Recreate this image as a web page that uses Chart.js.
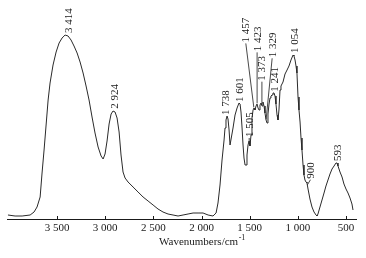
<!DOCTYPE html>
<html>
<head>
<meta charset="utf-8">
<script src="https://cdn.jsdelivr.net/npm/chart.js@4.4.1/dist/chart.umd.min.js"></script>
<style>
  html, body { margin: 0; padding: 0; background: #fff; }
  canvas { display: block; }
</style>
</head>
<body>
<canvas id="c" width="366" height="258"></canvas>
<script>
// IR spectrum (transmittance in arbitrary units)
const wavenumbers = [
  4010, 3936, 3863, 3780, 3739, 3708, 3676, 3656, 3635, 3614, 3593, 3573, 3542, 3510, 3479,
  3448, 3417, 3386, 3355, 3324, 3292, 3261, 3230, 3199, 3168, 3137, 3106, 3074, 3043, 3022,
  3002, 2981, 2960, 2939, 2919, 2898, 2877, 2856, 2836, 2815, 2794, 2763, 2711, 2659, 2607,
  2555, 2503, 2452, 2400, 2348, 2296, 2244, 2192, 2140, 2088, 2036, 1984, 1932, 1881, 1849,
  1829, 1808, 1787, 1766, 1756, 1746, 1735, 1725, 1714, 1704, 1694, 1673, 1652, 1631, 1611,
  1600, 1590, 1579, 1569, 1559, 1548, 1538, 1528, 1517, 1507, 1497, 1486, 1476, 1465, 1455,
  1445, 1434, 1424, 1413, 1403, 1393, 1382, 1372, 1362, 1351, 1341, 1330, 1320, 1310, 1299,
  1289, 1279, 1268, 1258, 1247, 1237, 1227, 1216, 1206, 1196, 1185, 1175, 1154, 1133, 1112,
  1092, 1071, 1050, 1040, 1029, 1019, 1009, 998, 988, 977, 967, 957, 946, 936, 926,
  915, 905, 894, 874, 853, 832, 811, 801, 791, 770, 749, 728, 708, 687, 666,
  645, 624, 604, 593, 583, 562, 541, 521, 500, 479, 458, 438, 427,
];
const transmittance = [
  4, 3, 3, 4, 7, 12, 22, 46, 69, 94, 119, 136, 154, 167, 176,
  181, 184, 183, 179, 173, 166, 157, 146, 133, 119, 102, 86, 72, 63, 60,
  65, 78, 95, 105, 108, 107, 101, 87, 64, 47, 41, 37, 32, 27, 22,
  18, 14, 10, 7, 5, 4, 3, 4, 5, 6, 6, 6, 4, 3, 6,
  16, 34, 59, 79, 91, 99, 103, 100, 89, 74, 74, 91, 104, 111, 116,
  115, 107, 91, 74, 61, 54, 54, 64, 74, 78, 73, 84, 101, 109, 111,
  109, 113, 115, 111, 109, 114, 116, 113, 117, 113, 106, 99, 96, 105, 115,
  121, 123, 124, 126, 126, 123, 115, 104, 99, 109, 129, 133, 137, 145, 149,
  153, 159, 164, 163, 159, 153, 146, 122, 109, 97, 81, 69, 54, 44, 39,
  37, 36, 30, 20, 12, 7, 4, 3, 5, 12, 19, 26, 33, 39, 45,
  50, 53, 56, 56, 53, 47, 42, 35, 30, 26, 21, 15, 9,
];

// x axis
const xMin = 396;
const xMax = 4020;
const xTicks = [3500, 3000, 2500, 2000, 1500, 1000, 500];

// peak annotations
const peakLabels = ['3 414', '2 924', '1 738', '1 601', '1 505', '1 457', '1 423',
  '1 373', '1 329', '1 241', '1 054', '900', '593'];
const peakWavenumbers = [3414, 2924, 1738, 1601, 1505, 1457, 1423,
  1373, 1329, 1241, 1054, 900, 593];

const axisTitle = 'Wavenumbers/cm';
const axisTitleSup = '-1';

const FONT = '"Liberation Serif", "Times New Roman", serif';
const INK = '#1a1a1a';

const fmtWave = (v) => {
  if (v >= 1000) return `${Math.floor(v / 1000)} ${String(v % 1000).padStart(3, '0')}`;
  return String(v);
};

// value of the spectrum at a given wavenumber (linear between read points)
const valueAt = (w) => {
  for (let i = 0; i < wavenumbers.length - 1; i += 1) {
    const a = wavenumbers[i];
    const b = wavenumbers[i + 1];
    if (w <= a && w >= b) {
      const t = (a - w) / (a - b);
      return transmittance[i] + t * (transmittance[i + 1] - transmittance[i]);
    }
  }
  return transmittance[transmittance.length - 1];
};

// where each label sits relative to its peak: dx in px, rise = gap above curve in px
const labelPlacement = [
  { dx: 3, rise: 1 }, { dx: 2, rise: 2 }, { dx: -1, rise: 1 }, { dx: 0, rise: 1 },
  { dx: 0, rise: 4 }, { dx: -8, rise: 65 }, { dx: 0, rise: 52 }, { dx: 0, rise: 24 },
  { dx: 6, rise: 62 }, { dx: 0, rise: 2 }, { dx: 2, rise: 2 }, { dx: 3, rise: 6 },
  { dx: 0, rise: 1 },
];

const decor = {
  id: 'decor',
  afterDraw(chart) {
    const { ctx, scales: { x, y } } = chart;
    const axisY = chart.chartArea.bottom;
    ctx.save();

    // small inward tick marks
    ctx.strokeStyle = INK;
    ctx.lineWidth = 1;
    x.ticks.forEach((t) => {
      const px = Math.round(x.getPixelForValue(t.value)) + 0.5;
      ctx.beginPath();
      ctx.moveTo(px, axisY);
      ctx.lineTo(px, axisY - 3);
      ctx.stroke();
    });

    // peak labels, rotated
    ctx.font = `11px ${FONT}`;
    ctx.fillStyle = INK;
    peakWavenumbers.forEach((w, i) => {
      const { dx, rise } = labelPlacement[i];
      const px = x.getPixelForValue(w);
      const py = y.getPixelForValue(valueAt(w));
      const tx = px + dx;
      const ty = py - rise;
      if (rise > 3 || Math.abs(dx) > 3) {
        ctx.beginPath();
        ctx.moveTo(tx, ty);
        ctx.lineTo(px, py - 1);
        ctx.lineWidth = 0.8;
        ctx.stroke();
      }
      ctx.save();
      ctx.translate(tx, ty - 1);
      ctx.rotate(-Math.PI / 2);
      ctx.textAlign = 'left';
      ctx.textBaseline = 'alphabetic';
      ctx.fillText(peakLabels[i], 0, 3.5);
      ctx.restore();
    });

    // axis title with superscript
    const titleX = 159;
    const titleY = 245;
    ctx.font = `11px ${FONT}`;
    ctx.textAlign = 'left';
    ctx.textBaseline = 'alphabetic';
    ctx.fillText(axisTitle, titleX, titleY);
    const w0 = ctx.measureText(axisTitle).width;
    ctx.font = `8px ${FONT}`;
    ctx.fillText(axisTitleSup, titleX + w0 + 0.5, titleY - 5);
    ctx.restore();
  },
};

new Chart(document.getElementById('c'), {
  type: 'line',
  data: {
    datasets: [{
      data: wavenumbers.map((w, i) => ({ x: w, y: transmittance[i] })),
      borderColor: '#2a2a2a',
      borderWidth: 1,
      pointRadius: 0,
      tension: 0,
      fill: false,
    }],
  },
  options: {
    responsive: false,
    animation: false,
    layout: { padding: { left: 7, right: 10, top: 0, bottom: 0 } },
    plugins: { legend: { display: false }, tooltip: { enabled: false } },
    scales: {
      x: {
        type: 'linear',
        reverse: true,
        min: xMin,
        max: xMax,
        grid: { display: false, drawTicks: false },
        border: { display: true, color: INK, width: 1 },
        ticks: {
          maxRotation: 0,
          autoSkip: false,
          padding: 3,
          color: INK,
          font: { family: FONT, size: 11 },
          callback: (v) => fmtWave(v),
        },
        afterBuildTicks: (scale) => {
          scale.ticks = xTicks.map((v) => ({ value: v }));
        },
        afterFit: (scale) => {
          scale.height = 39;
          scale.paddingLeft = 0;
          scale.paddingRight = 0;
        },
      },
      y: { display: false, min: 0, max: 219 },
    },
  },
  plugins: [decor],
});
</script>
</body>
</html>
